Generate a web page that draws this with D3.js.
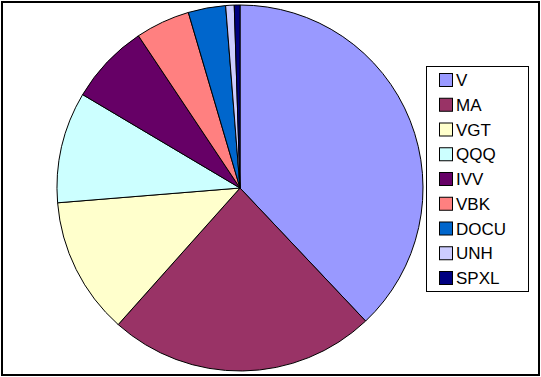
<!DOCTYPE html>
<html>
<head>
<meta charset="utf-8">
<script src="https://cdn.jsdelivr.net/npm/d3@7"></script>
<style>
  body { margin: 0; background: #fff; }
  text { font-family: "Liberation Sans", Arial, sans-serif; font-size: 17px; }
</style>
</head>
<body>
<svg id="chart" width="541" height="377"></svg>
<script>
const tickers = ['V', 'MA', 'VGT', 'QQQ', 'IVV', 'VBK', 'DOCU', 'UNH', 'SPXL'];
const shares = [37.9, 23.6, 12.1, 9.8, 7.1, 4.8, 3.3, 0.75, 0.5];
const colors = ['#9999FF', '#993366', '#FFFFCC', '#CCFFFF', '#660066', '#FF8080', '#0066CC', '#CCCCFF', '#000080'];

const svg = d3.select('#chart');

// outer frame
svg.append('rect')
    .attr('x', 2).attr('y', 2)
    .attr('width', 537).attr('height', 373)
    .attr('fill', 'none')
    .attr('stroke', 'black')
    .attr('stroke-width', 2);

const data = tickers.map((t, i) => ({ name: t, value: shares[i] }));
const color = d3.scaleOrdinal().domain(tickers).range(colors);

const pie = d3.pie().value(d => d.value).sort(null);
const arc = d3.arc().innerRadius(0).outerRadius(183);

const g = svg.append('g').attr('transform', 'translate(240,188)');
g.selectAll('path')
    .data(pie(data))
    .join('path')
    .attr('d', arc)
    .attr('fill', d => color(d.data.name))
    .attr('stroke', 'black')
    .attr('stroke-width', 1);

// legend
const legend = svg.append('g');
legend.append('rect')
    .attr('x', 426.5).attr('y', 66.5)
    .attr('width', 102).attr('height', 225)
    .attr('fill', 'white')
    .attr('stroke', 'black');

const y = d3.scalePoint().domain(tickers).range([80, 278]);
const items = legend.selectAll('g.item')
    .data(tickers)
    .join('g')
    .attr('class', 'item')
    .attr('transform', d => `translate(0,${y(d)})`);
items.append('rect')
    .attr('x', 439.5).attr('y', -6.5)
    .attr('width', 13).attr('height', 13)
    .attr('fill', d => color(d))
    .attr('stroke', 'black');
items.append('text')
    .attr('x', 456)
    .attr('y', 0)
    .attr('dy', '0.36em')
    .text(d => d);
</script>
</body>
</html>
